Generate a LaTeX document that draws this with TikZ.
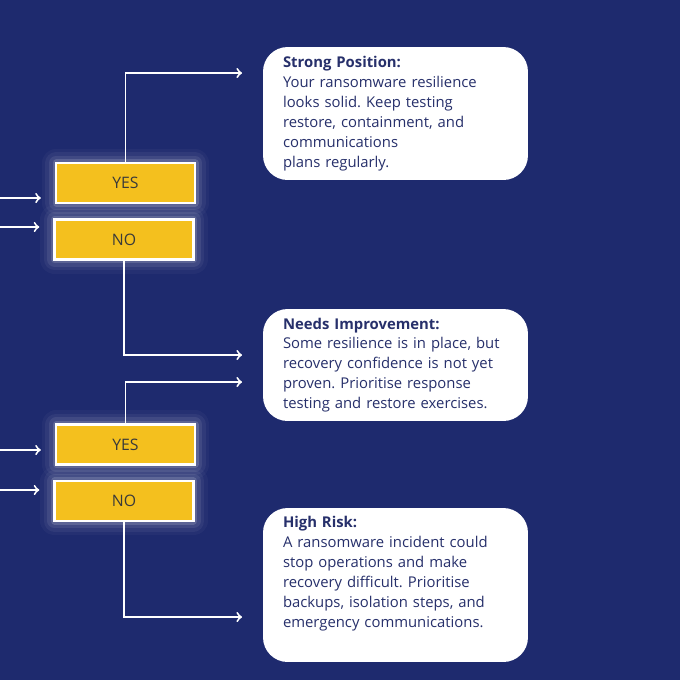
\documentclass[tikz,border=0pt]{standalone}
\usepackage{fontspec}
\setmainfont{Open Sans}
\frenchspacing
\usetikzlibrary{arrows, calc, positioning}
\definecolor{navybg}{HTML}{1E2A6E}
\definecolor{cardtext}{HTML}{27306B}
\definecolor{gold}{HTML}{F4C01E}
\definecolor{darktext}{HTML}{3A3A3A}
\tikzset
{%
answer/.style={fill=gold, draw=white, line width=1.4pt, minimum width=2.78cm, minimum height=0.8cm, inner sep=0pt, text=darktext, font=\fontsize{9}{10}\selectfont,
	preaction={draw=white, line join=round, line width=16pt, opacity=0.03},
	preaction={draw=white, line join=round, line width=12pt, opacity=0.05},
	preaction={draw=white, line join=round, line width=8pt, opacity=0.08},
	preaction={draw=white, line join=round, line width=4pt, opacity=0.15}},
card/.style={fill=white, rounded corners=14pt, minimum width=5.3cm, text width=4.5cm, inner xsep=0.4cm, inner ysep=0pt, align=left, text=cardtext, font=\fontsize{8.45}{11.34}\selectfont},
flow/.style={->, draw=white, line width=1.1pt}
}

\begin{document}
\begin{tikzpicture}[x=0.02cm, y=-0.02cm]
		\fill[navybg] (0,0) rectangle (680,680);
		\useasboundingbox (0,0) rectangle (680,680);

		\begin{scope}
			\node[answer] (yes1) at (125.5,183) {YES};
			\node[answer] (no1) at (124,239.5) {NO};
			\coordinate (in1) at (0,198);
			\coordinate (in2) at (0,227);
			\coordinate (out1) at (242,73);
			\coordinate (out2) at (242,355);
		\end{scope}

		\begin{scope}
			\node[answer] (yes2) at (125.5,444.5) {YES};
			\node[answer] (no2) at (124,501) {NO};
			\coordinate (in3) at (0,450);
			\coordinate (in4) at (0,490);
			\coordinate (out3) at (242,382);
			\coordinate (out4) at (242,617);
		\end{scope}

		\node[card, minimum height=2.66cm] (strong) at (395.5,113.5)
			{\textbf{Strong Position:}\\ Your ransomware resilience\\ looks solid. Keep testing\\ restore, containment, and\\ communications\\ plans regularly.};
		\node[card, minimum height=2.24cm] (needs) at (395.5,365)
			{\textbf{Needs Improvement:}\\ Some resilience is in place, but\\ recovery confidence is not yet\\ proven. Prioritise response\\ testing and restore exercises.};
		\node[card, minimum height=3.08cm] (risk) at (395.5,585)
			{\textbf{High Risk:}\\ A ransomware incident could\\ stop operations and make\\ recovery difficult. Prioritise\\ backups, isolation steps, and\\ emergency communications.\par\vspace{13pt}};

		\draw[flow, shorten >=0.28cm] (in1) -- (in1 -| yes1.west);
		\draw[flow, shorten >=0.28cm] (in2) -- (in2 -| no1.west);
		\draw[flow, shorten >=0.28cm] (in3) -- (in3 -| yes2.west);
		\draw[flow, shorten >=0.28cm] (in4) -- (in4 -| no2.west);

		\draw[flow] (yes1.north) |- (out1);
		\draw[flow] (no1.south) |- (out2);
		\draw[flow] (yes2.north) |- (out3);
		\draw[flow] (no2.south) |- (out4);
\end{tikzpicture}
\end{document}
